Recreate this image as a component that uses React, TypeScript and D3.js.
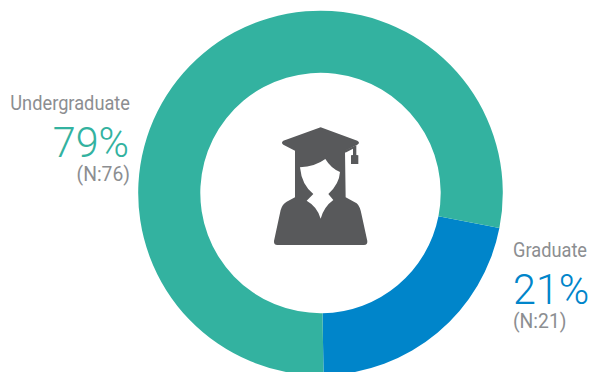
import React from "react";
import * as d3 from "d3";

const categories = ["Graduate", "Undergraduate"];
const counts = [21, 76];
const percents = ["21%", "79%"];
const colors = ["#0085CA", "#33B2A0"];
const grey = "#8C8E91";

const W = 590, H = 372, cx = 320.5, cy = 193, rOuter = 182.3, rInner = 120.2;
const startDeg = 101.1;

const squeeze = (x: number, k: number) => `translate(${x} 0) scale(${k} 1) translate(${-x} 0)`;

const Label = ({ x, y, i, anchor }: { x: number; y: number; i: number; anchor: "start" | "end" }) => (
  <g style={{ fontFamily: "Roboto" }} textAnchor={anchor}>
    <text x={x} y={y} fontSize={20.5} fontWeight={400} fill={grey} transform={squeeze(x, 0.89)}>{categories[i]}</text>
    <text x={anchor === "end" ? x - 1 : x} y={y + 46.5} fontSize={43} fontWeight={300} fill={colors[i]} transform={squeeze(x, 0.96)}>{percents[i]}</text>
    <text x={x} y={y + 71} fontSize={19.5} fontWeight={400} fill={grey} transform={squeeze(x, 0.99)}>{`(N:${counts[i]})`}</text>
  </g>
);

export default function App() {
  const pie = d3.pie<number>().sort(null).value((d) => d)
    .startAngle((startDeg * Math.PI) / 180)
    .endAngle(((startDeg + 360) * Math.PI) / 180);
  const arc = d3.arc<d3.PieArcDatum<number>>().innerRadius(rInner).outerRadius(rOuter);
  const arcs = pie(counts);
  return (
    <svg width={W} height={H} style={{ position: "fixed", left: 0, top: 0, background: "#fff" }}>
      <g transform={`translate(${cx},${cy})`}>
        {arcs.map((a, i) => <path key={i} d={arc(a) ?? ""} fill={colors[i]} />)}
      </g>
      <g transform="translate(250,110) scale(0.3333)">
        <path fill="#58595B" d="M212 52 L322 92 Q332 98 322 104 L285 122 L287 262 L320 280 Q330 288 335 315 L352 393 Q353 405 342 405 L82 405 Q71 405 72 393 L92 300 Q97 282 110 275 L135 262 L135 122 L100 104 Q92 98 100 92 Z" />
        <path fill="#58595B" d="M284 121 L308 110 L319 106 L319 135 L325 136 L325 162 L303 162 L303 136 L309 135 L309 116 L286 128 Z" />
        <path fill="#fff" d="M150 172 Q195 170 226 147 Q243 175 270 186 Q268 222 235 252 L250 270 Q222 290 212 326 Q202 290 170 272 L190 252 Q155 225 150 172 Z" />
      </g>
      <Label x={130} y={110.5} i={1} anchor="end" />
      <Label x={513} y={257.5} i={0} anchor="start" />
    </svg>
  );
}
